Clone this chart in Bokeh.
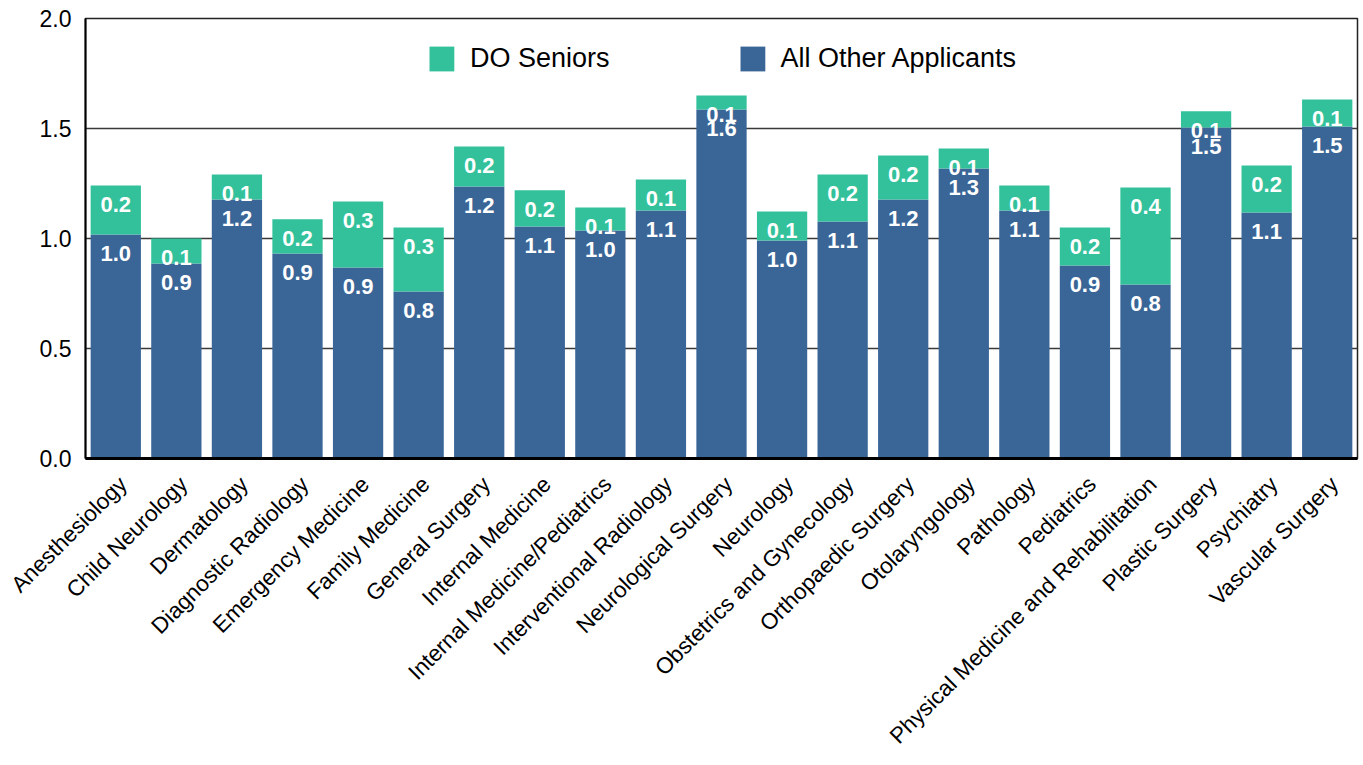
import math
from bokeh.plotting import figure
from bokeh.models import (ColumnDataSource, Legend, LegendItem, FixedTicker,
                          NumeralTickFormatter, Range1d, LinearAxis)
from bokeh.core.properties import value
from bokeh.embed import file_html
from bokeh.resources import INLINE

specialties = [
    "Anesthesiology", "Child Neurology", "Dermatology", "Diagnostic Radiology",
    "Emergency Medicine", "Family Medicine", "General Surgery", "Internal Medicine",
    "Internal Medicine/Pediatrics", "Interventional Radiology", "Neurological Surgery",
    "Neurology", "Obstetrics and Gynecology", "Orthopaedic Surgery", "Otolaryngology",
    "Pathology", "Pediatrics", "Physical Medicine and Rehabilitation", "Plastic Surgery",
    "Psychiatry", "Vascular Surgery",
]
all_other = [1.018, 0.886, 1.177, 0.932, 0.868, 0.759, 1.236, 1.055, 1.036, 1.127, 1.586,
             0.991, 1.077, 1.177, 1.318, 1.127, 0.877, 0.791, 1.505, 1.118, 1.509]
do_seniors = [0.223, 0.114, 0.114, 0.155, 0.300, 0.291, 0.182, 0.164, 0.105, 0.141, 0.064,
              0.132, 0.214, 0.200, 0.091, 0.114, 0.173, 0.441, 0.073, 0.214, 0.123]

BLUE = "#3A6597"
GREEN = "#32C19B"
FONT = "Liberation Sans"

Y_MAX = 2.0
FRAME_H = 440
PX = Y_MAX / FRAME_H          # data units per screen pixel
LABEL_DROP = 19 * PX          # value labels sit just inside the top of each segment
N = len(specialties)
LBL_SHIFT = 0.12              # category labels sit slightly right of bar centres

totals = [a + b for a, b in zip(all_other, do_seniors)]
src = ColumnDataSource(dict(
    idx=list(range(N)), spec=specialties, other=all_other, do=do_seniors, total=totals,
    other_y=[v - LABEL_DROP for v in all_other],
    do_y=[v - LABEL_DROP for v in totals],
    other_lbl=[f"{v:.1f}" for v in all_other],
    do_lbl=[f"{v:.1f}" for v in do_seniors],
))

p = figure(x_range=Range1d(-0.5, N - 0.5), y_range=Range1d(0, Y_MAX),
           width=1360, height=762, output_backend="svg", toolbar_location=None,
           min_border_left=85, min_border_top=18, min_border_bottom=304, min_border_right=3)

rs = p.vbar_stack(["other", "do"], x="idx", width=0.83, color=[BLUE, GREEN],
                  line_color=None, source=src)

for ycol, tcol in (("other_y", "other_lbl"), ("do_y", "do_lbl")):
    p.text(x="idx", y=ycol, text=tcol, source=src, text_align="center",
           text_baseline="middle", text_color="white", text_font=value(FONT),
           text_font_style="bold", text_font_size="22px")

legend = Legend(items=[LegendItem(label="DO Seniors", renderers=[rs[1]]),
                       LegendItem(label="All Other Applicants", renderers=[rs[0]])],
                orientation="horizontal", location="top_center",
                border_line_color=None, background_fill_alpha=0,
                glyph_width=31, glyph_height=31, label_standoff=13, spacing=127,
                margin=25, padding=25, label_text_font=FONT, label_text_font_size="27px",
                label_text_color="black")
p.add_layout(legend)

p.xgrid.grid_line_color = None
p.ygrid.ticker = FixedTicker(ticks=[0.5, 1.0, 1.5])
p.ygrid.grid_line_color = "#3a3a3a"
p.ygrid.grid_line_width = 1.5

p.yaxis.ticker = FixedTicker(ticks=[0, 0.5, 1.0, 1.5, 2.0])
p.yaxis.formatter = NumeralTickFormatter(format="0.0")
p.yaxis.major_tick_line_color = None
p.yaxis.minor_tick_line_color = None
p.yaxis.major_label_text_font = FONT
p.yaxis.major_label_text_font_size = "23px"
p.yaxis.major_label_text_color = "black"
p.yaxis.major_label_standoff = 8
p.yaxis.axis_line_color = "black"
p.yaxis.axis_line_width = 2

# main x axis hidden; category names come from an index axis nudged slightly right
p.xaxis.visible = False
p.extra_x_ranges = {"lbl": Range1d(start=-0.5 - LBL_SHIFT, end=N - 0.5 - LBL_SHIFT)}
lbl_axis = LinearAxis(x_range_name="lbl", ticker=FixedTicker(ticks=list(range(N))),
                      major_label_overrides={i: s for i, s in enumerate(specialties)})
lbl_axis.major_label_orientation = math.radians(45)
lbl_axis.major_tick_line_color = None
lbl_axis.minor_tick_line_color = None
lbl_axis.major_label_text_font = FONT
lbl_axis.major_label_text_font_size = "22.5px"
lbl_axis.major_label_text_color = "black"
lbl_axis.major_label_standoff = 16
lbl_axis.axis_line_color = "black"
lbl_axis.axis_line_width = 3
p.add_layout(lbl_axis, "below")

p.outline_line_color = "#222222"
p.outline_line_width = 1.5

open("out.html", "w").write(file_html(p, INLINE))
